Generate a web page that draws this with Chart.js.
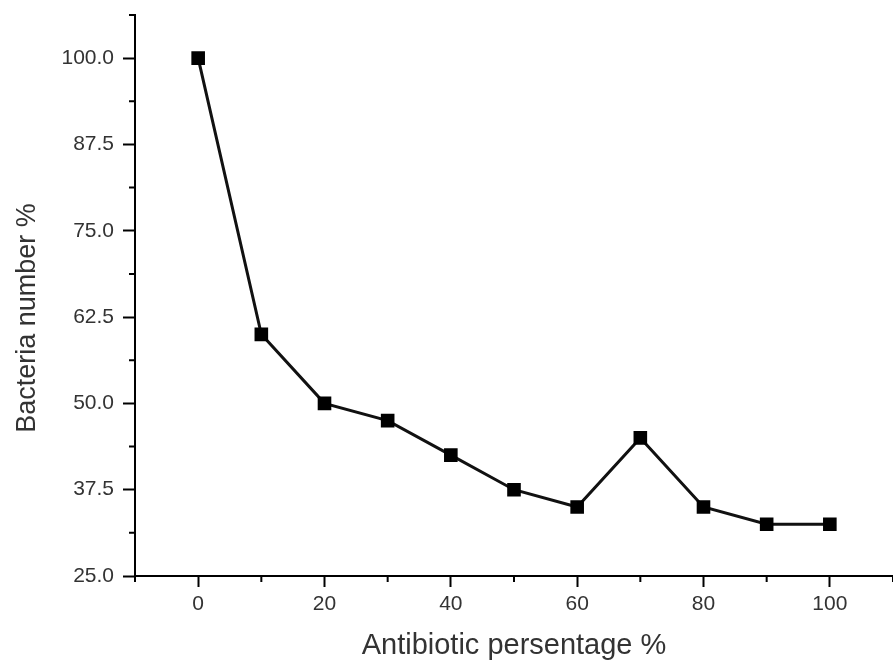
<!DOCTYPE html>
<html>
<head>
<meta charset="utf-8">
<script src="https://cdn.jsdelivr.net/npm/chart.js@4"></script>
<style>
  body { margin: 0; background: #fff; }
  canvas { display: block; }
</style>
</head>
<body>
<canvas id="bakteri" width="893" height="664"></canvas>
<script>
// data
var antibiotic = [0, 10, 20, 30, 40, 50, 60, 70, 80, 90, 100];
var bacteria = [100, 60, 50, 47.5, 42.5, 37.5, 35, 45, 35, 32.5, 32.5];

var xTicks = [0, 20, 40, 60, 80, 100];
var xMinor = [-10, 10, 30, 50, 70, 90, 110];
var yTicks = [25, 37.5, 50, 62.5, 75, 87.5, 100];
var yMinor = [31.25, 43.75, 56.25, 68.75, 81.25, 93.75, 106.25];

var points = antibiotic.map(function (x, i) {
    return { x: x, y: bacteria[i] };
});

// minor tick kecil di luar sumbu
var minorTicks = {
    id: "minorTicks",
    afterDraw: function (chart) {
        var ctx = chart.ctx;
        var xs = chart.scales.x;
        var ys = chart.scales.y;
        ctx.save();
        ctx.strokeStyle = "#000";
        ctx.lineWidth = 2;
        ctx.beginPath();
        xMinor.forEach(function (v) {
            var px = xs.getPixelForValue(v);
            ctx.moveTo(px, xs.top);
            ctx.lineTo(px, xs.top + 6);
        });
        yMinor.forEach(function (v) {
            var py = ys.getPixelForValue(v);
            ctx.moveTo(ys.right, py);
            ctx.lineTo(ys.right - 6, py);
        });
        ctx.stroke();
        ctx.restore();
    },
};

var tickFont = { family: "'Liberation Sans', Arial, sans-serif", size: 21 };
var titleFont = { family: "'Liberation Sans', Arial, sans-serif", size: 29 };

new Chart(document.getElementById("bakteri"), {
    type: "line",
    data: {
        datasets: [
            {
                data: points,
                borderColor: "#111",
                borderWidth: 3,
                backgroundColor: "#000",
                pointStyle: "rect",
                pointRadius: 7.5,
                pointBorderColor: "#000",
                pointBackgroundColor: "#000",
                tension: 0,
            },
        ],
    },
    options: {
        responsive: false,
        animation: false,
        layout: { autoPadding: false, padding: { top: 15, right: 0, left: 0, bottom: 0 } },
        plugins: {
            legend: { display: false },
            tooltip: { enabled: false },
        },
        scales: {
            x: {
                type: "linear",
                min: -10,
                max: 110,
                afterBuildTicks: function (scale) {
                    scale.ticks = xTicks.map(function (v) { return { value: v }; });
                },
                afterFit: function (scale) {
                    scale.height = 88;
                    scale.paddingLeft = 0;
                    scale.paddingRight = 0;
                },
                border: { color: "#000", width: 2 },
                grid: {
                    drawOnChartArea: false,
                    drawTicks: true,
                    tickLength: 11,
                    tickColor: "#000",
                    tickWidth: 2,
                },
                ticks: {
                    color: "#333",
                    font: tickFont,
                    padding: 5,
                    maxRotation: 0,
                    callback: function (v) { return v; },
                },
                title: {
                    display: true,
                    text: "Antibiotic persentage %",
                    color: "#333",
                    font: titleFont,
                    padding: { top: 0, bottom: 1 },
                },
            },
            y: {
                type: "linear",
                min: 25,
                max: 106.25,
                afterBuildTicks: function (scale) {
                    scale.ticks = yTicks.map(function (v) { return { value: v }; });
                },
                afterFit: function (scale) {
                    scale.width = 135;
                    scale.paddingTop = 0;
                    scale.paddingBottom = 0;
                },
                border: { color: "#000", width: 2 },
                grid: {
                    drawOnChartArea: false,
                    drawTicks: true,
                    tickLength: 12,
                    tickColor: "#000",
                    tickWidth: 2,
                },
                ticks: {
                    color: "#333",
                    font: tickFont,
                    padding: 9,
                    callback: function (v) { return v.toFixed(1); },
                },
                title: {
                    display: true,
                    // spasi di belakang supaya teks sedikit turun
                    text: "Bacteria number %\u00a0\u00a0\u00a0\u00a0\u00a0\u00a0",
                    color: "#333",
                    font: { family: "'Liberation Sans', Arial, sans-serif", size: 27 },
                    padding: { top: 11, bottom: 0 },
                },
            },
        },
    },
    plugins: [minorTicks],
});
</script>
</body>
</html>
